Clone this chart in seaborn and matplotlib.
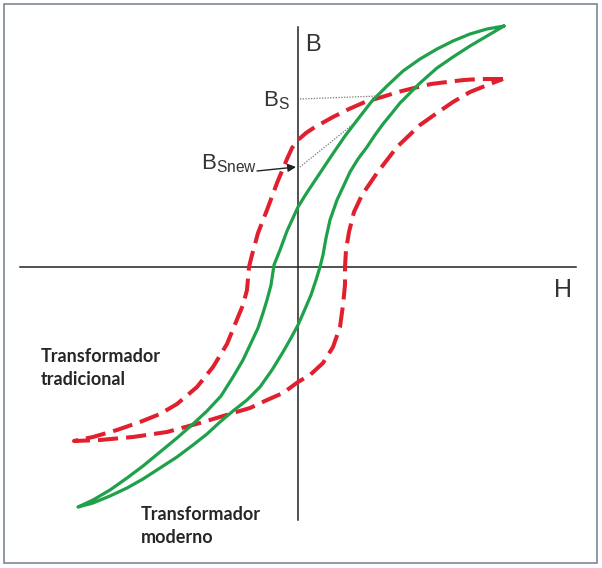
import matplotlib
matplotlib.use("Agg")
import matplotlib.pyplot as plt
import seaborn as sns
import pandas as pd
from matplotlib.patches import Rectangle

# ── Data (H, B, origin at the axes crossing) ──────────────────────────────────
# modern transformer, solid green loop
green_desc_h = [206, 189, 172, 155, 139, 122, 105, 89, 74, 60, 47, 34, 20, 8, 0,
                -11, -18, -24, -27, -31, -35, -40, -47, -55, -65, -77, -91,
                -105, -121, -138, -155, -171, -188, -205, -220]
green_desc_b = [241, 238, 233, 226, 218, 208, 196, 181, 166, 148, 131, 112, 91, 73, 60,
                36, 17, 2, -18, -33, -46, -61, -76, -93, -110, -129, -144,
                -157, -171, -185, -199, -211, -223, -233, -240]
green_asc_h = [-220, -205, -188, -171, -155, -138, -121, -105, -91, -78, -65, -51,
               -38, -26, -15, -7, 0, 7, 13, 18, 22, 25, 28, 32, 39, 46, 52, 60,
               69, 77, 85, 94, 102, 112, 122, 139, 155, 172, 189, 206]
green_asc_b = [-240, -236, -229, -221, -212, -201, -190, -178, -167, -155, -144, -133,
               -120, -103, -85, -71, -58, -42, -28, -13, 0, 12, 29, 47, 67, 82, 95, 108,
               120, 132, 143, 154, 164, 174, 184, 199, 210, 221, 231, 241]

# traditional transformer, dashed red loop
red_desc_h = [205, 182, 166, 149, 133, 116, 100, 84, 67, 51, 35, 17, 8, 0, -6,
              -11, -21, -31, -40, -46, -49, -51, -55, -60, -71, -85, -101,
              -121, -138, -158, -181, -205, -224]
red_desc_b = [188, 188, 187, 185, 183, 179, 175, 170, 165, 158, 150, 140, 134, 127, 119,
              108, 84, 57, 34, 12, 0, -23, -38, -50, -77, -100, -120,
              -137, -147, -155, -163, -170, -174]
red_asc_h = [-224, -198, -165, -131, -98, -65, -48, -31, -15, 0, 12, 25, 35, 42,
             45, 47, 47, 48, 51, 56, 64, 79, 99, 122, 139, 155, 172, 192, 205]
red_asc_b = [-174, -173, -170, -165, -156, -146, -141, -133, -126, -115, -108, -96, -80, -60,
             -38, -18, 0, 17, 35, 55, 72, 94, 120, 142, 154, 165, 175, 183, 188]

# saturation guide lines (dotted) and the B_Snew arrow
bs_guide_h = [2, 80]
bs_guide_b = [168, 171]
bsnew_guide_h = [2, 54]
bsnew_guide_b = [100, 142]
arrow_tail = (-41, 96)
arrow_head = (-2, 100)

GREEN = "#1fa04b"
RED = "#e0202e"

green = pd.DataFrame({"H": green_desc_h + green_asc_h[1:],
                      "B": green_desc_b + green_asc_b[1:]})
red = pd.DataFrame({"H": red_desc_h + red_asc_h[1:],
                    "B": red_desc_b + red_asc_b[1:]})

# ── Figure ────────────────────────────────────────────────────────────────────
sns.set_style("white")
plt.rcParams["font.family"] = ["Liberation Sans", "DejaVu Sans"]
plt.rcParams["mathtext.fontset"] = "custom"
plt.rcParams["mathtext.rm"] = "Liberation Sans"

fig = plt.figure(figsize=(6.02, 5.68), dpi=100)
ax = fig.add_axes([0, 0, 1, 1])
ax.set_xlim(-298, 304)
ax.set_ylim(-301, 267)

sns.lineplot(data=red, x="H", y="B", sort=False, estimator=None, ax=ax,
             color=RED, lw=2.9, linestyle=(0, (5, 2)), solid_joinstyle="round")
sns.lineplot(data=green, x="H", y="B", sort=False, estimator=None, ax=ax,
             color=GREEN, lw=2.3, solid_joinstyle="round", solid_capstyle="round")

ax.plot(bs_guide_h, bs_guide_b, color="#777777", lw=0.9, ls=(0, (1, 1.2)))
ax.plot(bsnew_guide_h, bsnew_guide_b, color="#777777", lw=0.9, ls=(0, (1, 1.2)))
ax.annotate("", xy=arrow_head, xytext=arrow_tail,
            arrowprops=dict(arrowstyle="-|>", color="#222222", lw=1.0,
                            mutation_scale=12, shrinkA=0, shrinkB=0))

# axes through the origin
for side in ["top", "right"]:
    ax.spines[side].set_visible(False)
ax.spines["left"].set_position(("data", 0))
ax.spines["bottom"].set_position(("data", 0))
ax.spines["left"].set_bounds(-253, 240)
ax.spines["bottom"].set_bounds(-278, 278)
for side in ["left", "bottom"]:
    ax.spines[side].set_color("#222222")
    ax.spines[side].set_linewidth(1.1)
    ax.spines[side].set_zorder(1)
ax.set_xticks([])
ax.set_yticks([])
ax.set_xlabel("")
ax.set_ylabel("")

# labels
ax.text(7, 216, "B", fontsize=17, color="#333333", va="baseline")
ax.text(256, -30, "H", fontsize=18, color="#333333", va="baseline")
ax.text(-35, 161, r"$\mathregular{B_S}$", fontsize=16, color="#333333",
        va="baseline")
ax.text(-97, 98, r"$\mathregular{B_{Snew}}$", fontsize=16, color="#333333",
        va="baseline")

# multi-line text with va="baseline" sits on the last line's baseline
ax.text(-257, -118, "Transformador\ntradicional", fontsize=13, fontweight="bold",
        family=["Lato", "DejaVu Sans"], va="baseline", linespacing=1.45)
ax.text(-157, -276, "Transformador\nmoderno", fontsize=13, fontweight="bold",
        family=["Lato", "DejaVu Sans"], va="baseline", linespacing=1.45)

# picture frame
fig.add_artist(Rectangle((4 / 602, 1 - 563 / 568), 593 / 602, 559 / 568,
                         transform=fig.transFigure, fill=False,
                         edgecolor="#7d8896", lw=1.2))

fig.savefig("out.png", dpi=100)
